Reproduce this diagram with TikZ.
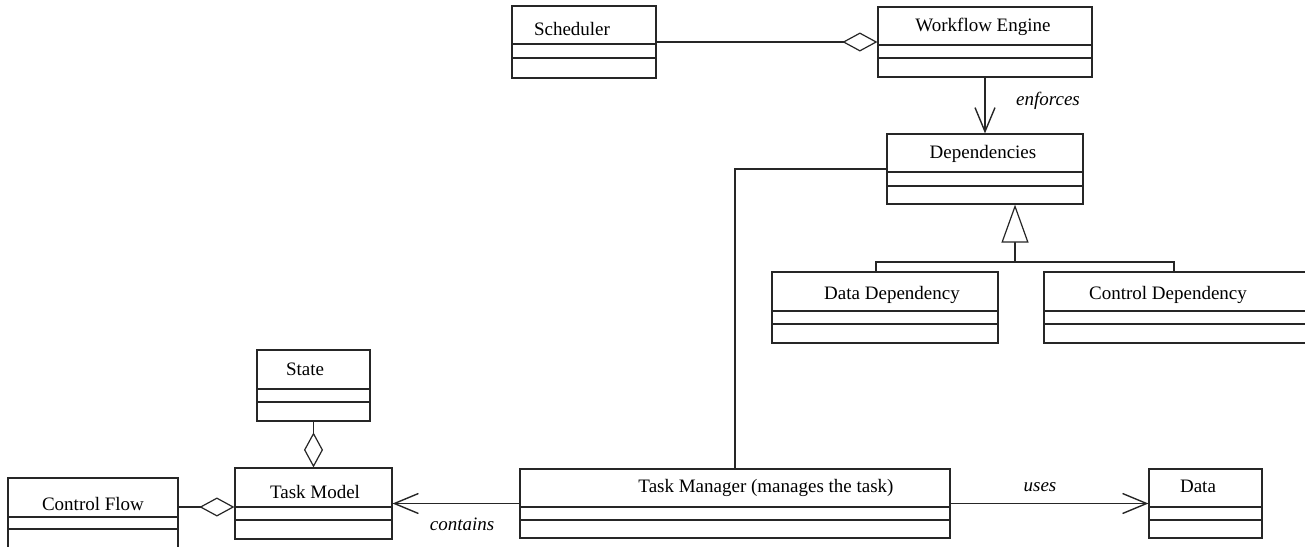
\documentclass[tikz,border=0pt]{standalone}
\usepackage{fontspec}
\setmainfont{Liberation Serif}
\usetikzlibrary{arrows.meta,fit}

% UML class box: name, x1, y1, x2, y2, first and second compartment lines
\newcommand{\classbox}[7]{%
  \node[cls, fit={(#2,#3) (#4,#5)}] (#1) {};
  \draw[uml] (#2,#6) -- (#4,#6) (#2,#7) -- (#4,#7);
}

\tikzset{
  uml/.style={line width=0.6pt, draw=black!85},
  cls/.style={uml, draw, inner sep=0pt, rectangle},
  title/.style={anchor=base, inner sep=0pt, font=\fontsize{9.5}{11}\selectfont},
  role/.style={anchor=base, inner sep=0pt, font=\fontsize{9.5}{11}\selectfont\itshape},
  assoc/.style={uml, -{Straight Barb[length=12pt, width=10pt, line width=0.7pt]}},
  agg/.style={uml, -{Diamond[open, length=17.5pt, width=9.5pt, fill=white]}},
  gen/.style={uml, -{Triangle[open, length=19pt, width=13.5pt, fill=white]}},
}

\begin{document}
\begin{tikzpicture}[x=0.5pt, y=-0.5pt]
\useasboundingbox (0,0) rectangle (1305,546);
\clip (0,0) rectangle (1305,546);

% classes
\classbox{sched}{512}{6}{656}{78}{44}{58}
\classbox{we}{878}{7}{1092}{77}{45}{58}
\classbox{dep}{887}{134}{1083}{204}{172}{186}
\classbox{dd}{772}{272}{998}{343}{311}{324}
\classbox{cd}{1044}{272}{1320}{343}{311}{324}
\classbox{state}{257}{350}{370}{421}{389}{402}
\classbox{tmodel}{235}{468}{392}{539}{507}{520}
\classbox{cf}{8}{478}{178}{549}{517}{529}
\classbox{tm}{520}{469}{950}{538}{507}{520}
\classbox{data}{1149}{469}{1262}{538}{507}{520}

% class names
\node[title] (t-sched) at (572,35) {Scheduler};
\node[title] (t-we) at (983,32) {Workflow Engine};
\node[title] (t-dep) at (983,158) {Dependencies};
\node[title] (t-dd) at (892,299) {Data Dependency};
\node[title] (t-cd) at (1168,299) {Control Dependency};
\node[title] (t-state) at (305,375) {State};
\node[title] (t-tmodel) at (315,498) {Task Model};
\node[title] (t-cf) at (93,510) {Control Flow};
\node[title] (t-tm) at (766,492) {Task Manager (manages the task)};
\node[title] (t-data) at (1198,492) {Data};

% helper points
\coordinate (cfy) at (0,507);
\coordinate (j0) at (1015,262);
\coordinate (j1) at (876,262);
\coordinate (j2) at (1174,262);

% aggregations
\draw[agg] (sched.east) -- (we.west);
\draw[agg] (state.south) -- (tmodel.north);
\draw[agg] (cf.east |- cfy) -- (tmodel.west |- cfy);

% directed associations
\draw[assoc] (dep.north |- we.south) -- (dep.north);
\draw[assoc] (tm.west) -- (tmodel.east);
\draw[assoc] (tm.east) -- (data.west);

% plain association
\draw[uml] (dep.west) -| (tm.north);

% generalization
\draw[gen] (j0) -- (dep.south -| j0);
\draw[uml] (dd.north -| j1) -- (j1) -- (j2) -- (cd.north -| j2);

% role labels
\node[role] (l-enf) at (1048,105) {enforces};
\node[role] (l-uses) at (1040,491) {uses};
\node[role] (l-cont) at (462,530) {contains};
\end{tikzpicture}
\end{document}
